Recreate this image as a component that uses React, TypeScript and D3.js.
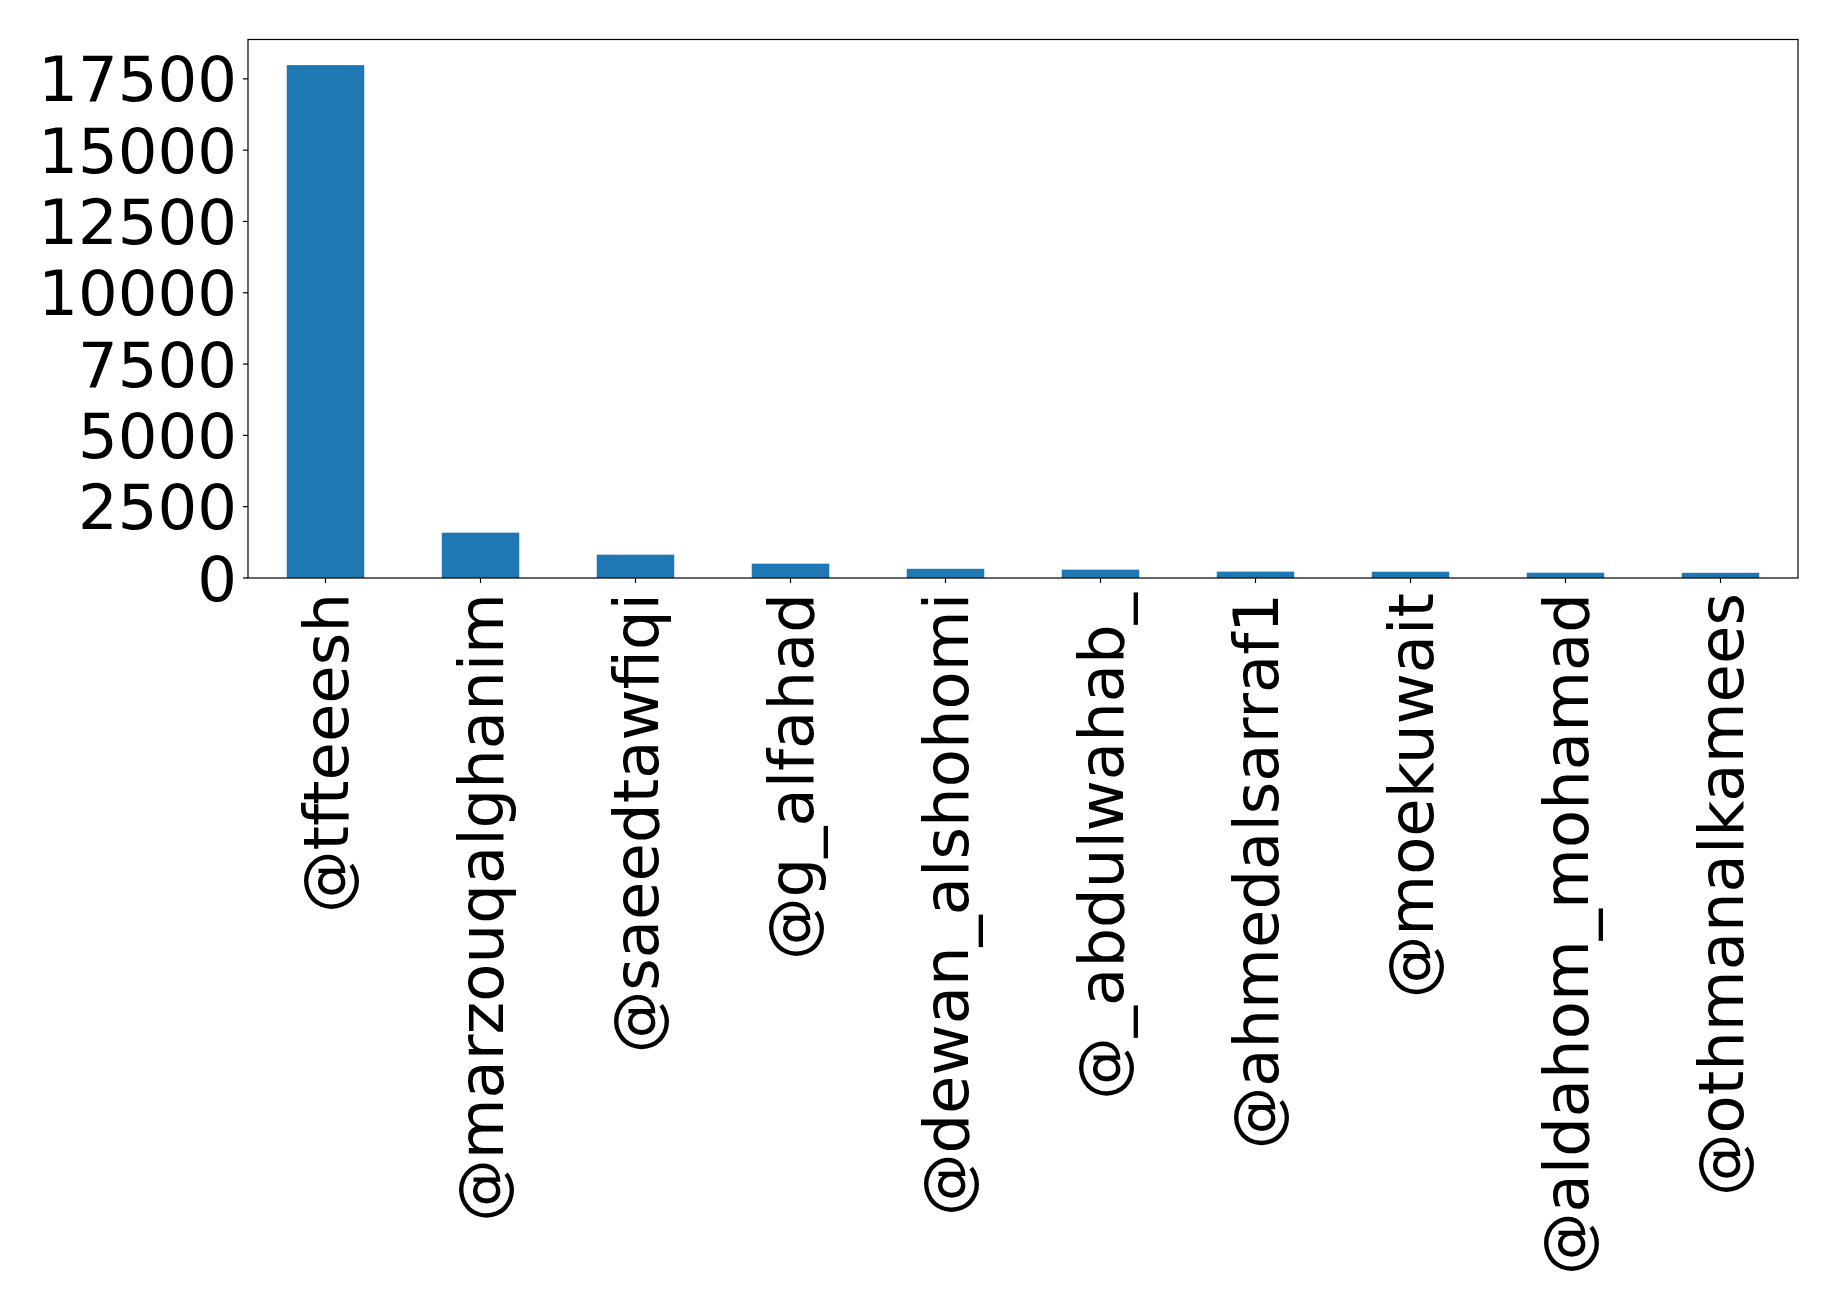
import React from "react";
import * as d3 from "d3";

const categories = [
  "@tfteeesh",
  "@marzouqalghanim",
  "@saeedtawfiqi",
  "@g_alfahad",
  "@dewan_alshohomi",
  "@_abdulwahab_",
  "@ahmedalsarraf1",
  "@moekuwait",
  "@aldahom_mohamad",
  "@othmanalkamees",
];
const values = [17980, 1590, 818, 503, 322, 292, 224, 220, 186, 182];
const yTicks = [0, 2500, 5000, 7500, 10000, 12500, 15000, 17500];

const W = 1838;
const H = 1309;
const left = 248;
const right = 1798;
const top = 39.5;
const bottom = 578;
const FONT = "DejaVu Sans, sans-serif";
const FS = 62.5;

export default function App() {
  const x = d3
    .scaleBand<string>()
    .domain(categories)
    .range([left, right])
    .paddingInner(0.5)
    .paddingOuter(0.25);
  const y = d3
    .scaleLinear()
    .domain([0, d3.max(values)! * 1.05])
    .range([bottom, top]);

  return (
    <svg
      width={W}
      height={H}
      style={{ position: "absolute", left: 0, top: 0, background: "#fff" }}
      fontFamily={FONT}
    >
      <rect x={0} y={0} width={W} height={H} fill="#fff" />
      {categories.map((c, i) => (
        <rect
          key={c}
          x={x(c)}
          y={y(values[i])}
          width={x.bandwidth()}
          height={bottom - y(values[i])}
          fill="#1f77b4"
        />
      ))}
      <rect
        x={left}
        y={top}
        width={right - left}
        height={bottom - top}
        fill="none"
        stroke="#000"
        strokeWidth={1.2}
      />
      {yTicks.map((t) => (
        <g key={t} transform={`translate(0,${y(t)})`}>
          <line x1={left - 5} x2={left} stroke="#000" strokeWidth={1.2} />
          <text
            x={left - 11}
            dy="0.36em"
            textAnchor="end"
            fontSize={FS}
            fill="#000"
          >
            {t}
          </text>
        </g>
      ))}
      {categories.map((c) => {
        const cx = x(c)! + x.bandwidth() / 2;
        return (
          <g key={c}>
            <line x1={cx} x2={cx} y1={bottom} y2={bottom + 5} stroke="#000" strokeWidth={1.2} />
            <text
              transform={`translate(${cx},${bottom + 15}) rotate(-90)`}
              textAnchor="end"
              dy="0.36em"
              fontSize={FS}
              fill="#000"
            >
              {c}
            </text>
          </g>
        );
      })}
    </svg>
  );
}
